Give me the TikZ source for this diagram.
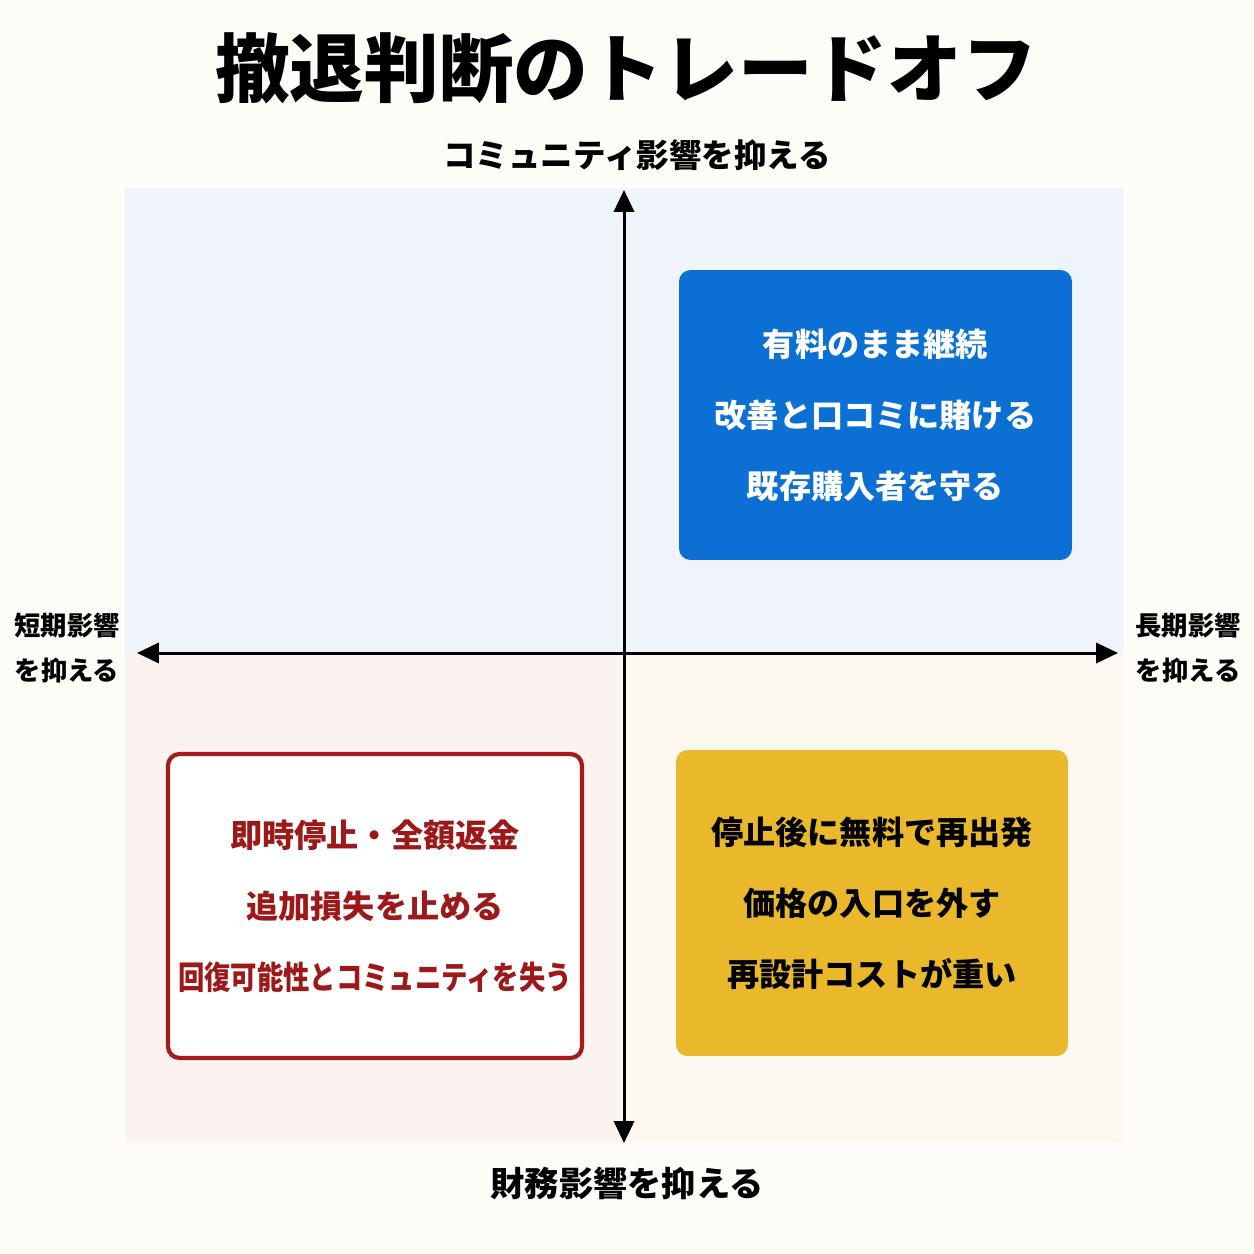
\documentclass[tikz,border=0pt]{standalone}
\usepackage{fontspec}
\setmainfont{Noto Sans CJK JP}
\usepackage{xcolor}
\usepackage{tikz}
\usetikzlibrary{arrows.meta, positioning}
\definecolor{pagebg}{HTML}{FDFCF7}
\definecolor{qtopbg}{HTML}{EFF4FB}
\definecolor{qleftbg}{HTML}{FBF3F0}
\definecolor{qrightbg}{HTML}{FCF8EF}
\definecolor{keepblue}{HTML}{0B6FD3}
\definecolor{stopred}{HTML}{A51A1A}
\definecolor{freeyellow}{HTML}{E9B82B}

\begin{document}
\begin{tikzpicture}[
        x=0.02cm, y=-0.02cm,
        choice/.style={rectangle, rounded corners=6.5pt, minimum width=7.86cm, minimum height=5.8cm, align=center, font=\fontsize{18.3}{40.5}\selectfont\bfseries},
        axislabel/.style={font=\fontsize{18.5}{22}\selectfont\bfseries, text=black},
        sidelabel/.style={align=center, font=\fontsize{15}{25.5}\selectfont\bfseries, text=black},
        axis/.style={{Triangle[length=12.5pt, width=11.5pt]}-{Triangle[length=12.5pt, width=11.5pt]}, line width=1.7pt, color=black}
    ]
        \useasboundingbox (0,0) rectangle (1254,1254);
        \fill[pagebg] (0,0) rectangle (1254,1254);

        % Quadrant backgrounds
        \fill[qtopbg] (125,188) rectangle (1123,653);
        \fill[qleftbg] (125,653) rectangle (624,1143);
        \fill[qrightbg] (624,653) rectangle (1123,1143);

        % Title
        \node[font=\fontsize{42.5}{48}\selectfont\bfseries] (title) at (626,68) {撤退判断のトレードオフ};

        % Axes
        \coordinate (top) at (624,190);
        \coordinate (bottom) at (624,1143);
        \coordinate (left) at (137,653);
        \coordinate (right) at (1118,653);
        \draw[axis] (bottom) -- (top);
        \draw[axis] (left) -- (right);

        % Axis labels
        \node[axislabel] (community) at (637,155) {コミュニティ影響を抑える};
        \node[axislabel, font=\fontsize{19.5}{22}\selectfont\bfseries] (finance) at (627,1183) {財務影響を抑える};
        \node[sidelabel] (short) at (67,648) {短期影響\\を抑える};
        \node[sidelabel] (long) at (1188,648) {長期影響\\を抑える};

        % Options
        \node[choice, fill=keepblue, text=white] (keep) at (875.5,415) {有料のまま継続\\改善と口コミに賭ける\\既存購入者を守る};
        \node[choice, fill=white, draw=stopred, line width=2.4pt, text=stopred!95!black, minimum width=8.28cm, minimum height=6.08cm] (stop) at (375,906) {即時停止・全額返金\\追加損失を止める\\\scalebox{0.82}[1]{回復可能性とコミュニティを失う}};
        \node[choice, fill=freeyellow, text=black, minimum width=7.84cm, minimum height=6.12cm] (free) at (872,903) {停止後に無料で再出発\\価格の入口を外す\\再設計コストが重い};
    \end{tikzpicture}
\end{document}
